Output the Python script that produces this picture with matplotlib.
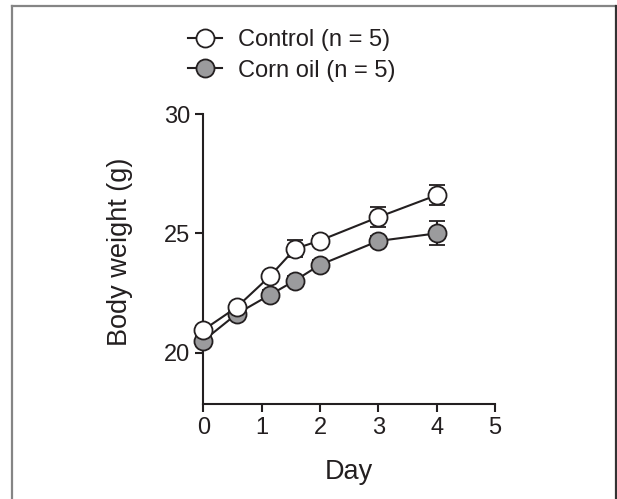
from matplotlib import pyplot as plt
from matplotlib.lines import Line2D

# values
days = [0, 0.57, 1.14, 1.57, 2, 3, 4]
control = [20.95, 21.9, 23.2, 24.35, 24.7, 25.68, 26.6]
control_err = [0.15, 0.15, 0.2, 0.36, 0.2, 0.42, 0.42]
corn_oil = [20.5, 21.62, 22.42, 23.02, 23.68, 24.68, 25.0]
corn_oil_err = [0.15, 0.15, 0.2, 0.2, 0.2, 0.2, 0.5]
series_labels = ["Control (n = 5)", "Corn oil (n = 5)"]
x_ticks = [0, 1, 2, 3, 4, 5]
y_ticks = [20, 25, 30]

plt.rcParams['font.family'] = ['Liberation Sans', 'DejaVu Sans']
ink = "#231f20"


def main():
    fig = plt.figure(figsize=(6.17, 4.99), dpi=100)
    ax = fig.add_axes([0.3295, 0.1904, 0.4728, 0.5811])

    # corn oil first so the control circles sit on top where they overlap
    ax.errorbar(days, corn_oil, yerr=corn_oil_err, color=ink, lw=1.5,
                marker="o", ms=13, mfc="#9b9b9d", mec=ink, mew=1.3,
                capsize=6, capthick=1.5, elinewidth=1.5, zorder=3,
                label=series_labels[1])
    ax.errorbar(days, control, yerr=control_err, color=ink, lw=1.5,
                marker="o", ms=13, mfc="white", mec=ink, mew=1.3,
                capsize=6, capthick=1.5, elinewidth=1.5, zorder=4,
                label=series_labels[0])

    ax.set_xlim(0, 5)
    ax.set_ylim(17.85, 30)
    ax.set_xticks(x_ticks)
    ax.set_yticks(y_ticks)
    ax.tick_params(labelsize=17, length=6, width=1.5, color=ink,
                   labelcolor=ink, pad=3.5)
    for side in ["top", "right"]:
        ax.spines[side].set_visible(False)
    for side in ["left", "bottom"]:
        ax.spines[side].set_linewidth(1.5)
        ax.spines[side].set_color(ink)
    for a in ax.collections + ax.lines:
        a.set_clip_on(False)

    ax.set_xlabel("Day", fontsize=19.5, color=ink, labelpad=14)
    ax.set_ylabel("Body weight (g)", fontsize=19.5, color=ink, labelpad=22.5)
    ax.yaxis.label.set_y(0.526)  # sits a little above the axis middle

    handles = [
        Line2D([], [], color=ink, lw=1.5, marker="o", ms=13, mfc="white",
               mec=ink, mew=1.3),
        Line2D([], [], color=ink, lw=1.5, marker="o", ms=13, mfc="#9b9b9d",
               mec=ink, mew=1.3),
    ]
    fig.legend(handles, series_labels, loc="center left",
               bbox_to_anchor=(0.3047, 0.889), frameon=False, fontsize=17,
               borderpad=0, borderaxespad=0, handlelength=1.45,
               handletextpad=0.65, labelspacing=0.35, labelcolor=ink)

    # page frame around the figure panel
    fig.add_artist(Line2D([12 / 617, 12 / 617], [0, 1 - 6 / 499],
                          transform=fig.transFigure, color="#858585", lw=1.6))
    fig.add_artist(Line2D([12 / 617, 615 / 617], [1 - 6 / 499, 1 - 6 / 499],
                          transform=fig.transFigure, color="#858585", lw=1.6))
    fig.add_artist(Line2D([615.5 / 617, 615.5 / 617], [0, 1 - 6 / 499],
                          transform=fig.transFigure, color="#333333", lw=1.6))

    fig.savefig("out.png", dpi=100)


if __name__ == "__main__":
    main()
